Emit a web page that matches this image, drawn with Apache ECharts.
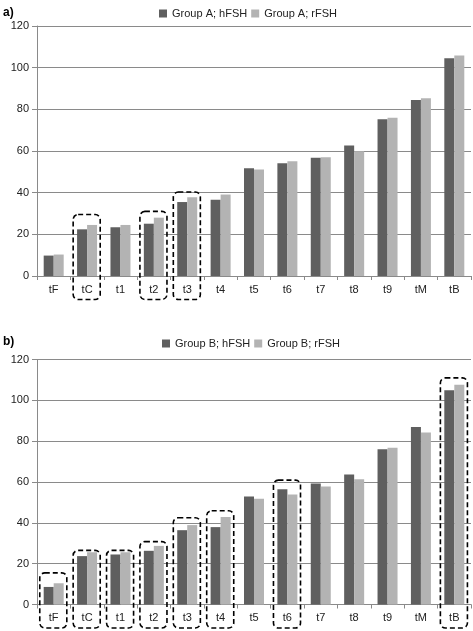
<!DOCTYPE html>
<html><head><meta charset="utf-8">
<script src="https://cdn.jsdelivr.net/npm/echarts@6/dist/echarts.min.js"></script>
<style>html,body{margin:0;padding:0;background:#fff}#c{width:473px;height:631px}</style>
</head><body><div id="c"></div>
<script>
var categories = ['tF','tC','t1','t2','t3','t4','t5','t6','t7','t8','t9','tM','tB'];
var yTicks = [0,20,40,60,80,100,120];
var groupA_hFSH = [9.8,22.4,23.4,25.1,35.5,36.6,51.7,54.1,56.8,62.7,75.2,84.5,104.5];
var groupA_rFSH = [10.3,24.5,24.5,28.0,37.8,39.1,51.1,55.1,57.0,59.9,76.0,85.3,105.8];
var groupB_hFSH = [8.6,23.7,24.5,26.3,36.4,37.9,52.9,56.5,59.3,63.7,76.0,86.9,104.9];
var groupB_rFSH = [10.4,25.6,25.6,28.7,38.9,42.8,51.8,53.9,57.8,61.4,76.8,84.3,107.6];
// highlighted (dashed box) categories and the value at the top of each box
var boxesA = ['tC','t2','t3'];
var boxTopA = [29.5,31,40.3];
var boxesB = ['tF','tC','t1','t2','t3','t4','t6','tB'];
var boxTopB = [15.5,26.5,26.5,30.8,42.5,45.9,60.9,111];

var DARK = '#5f5f5f', LIGHT = '#b3b3b3', GRID = '#8a8a8a';
var FONT = 'Liberation Sans, Arial, sans-serif';

function xAx(gi){
  return {type:'category', gridIndex:gi, data:categories,
    axisLine:{lineStyle:{color:GRID,width:1}},
    axisTick:{show:true,length:4,lineStyle:{color:GRID}},
    axisLabel:{color:'#222',fontSize:11,fontFamily:FONT,margin:8}};
}
function yAx(gi){
  return {type:'value', gridIndex:gi, min:0, max:120, interval:20,
    axisLine:{show:true,lineStyle:{color:GRID,width:1}},
    axisTick:{show:true,length:5,lineStyle:{color:GRID}},
    splitLine:{lineStyle:{color:GRID,width:1}},
    axisLabel:{color:'#222',fontSize:11,fontFamily:FONT,margin:8,
      formatter:function(v){return yTicks.indexOf(v)>=0?String(v):'';}}};
}
function bar(name,data,gi,color){
  return {type:'bar',name:name,data:data,xAxisIndex:gi,yAxisIndex:gi,
    barWidth:10,barGap:'0%',itemStyle:{color:color},emphasis:{disabled:true}};
}
var legendStyle = {icon:'rect',itemWidth:8,itemHeight:8,itemGap:4,
  textStyle:{fontSize:11,fontFamily:FONT,color:'#222'},selectedMode:false};

var chart = echarts.init(document.getElementById('c'),null,{renderer:'canvas'});
chart.setOption({
  animation:false,
  backgroundColor:'#fff',
  title:[
    {text:'a)',left:-2,top:2,textStyle:{fontSize:12,fontWeight:'bold',fontFamily:FONT,color:'#000'}},
    {text:'b)',left:-2,top:331,textStyle:{fontSize:12,fontWeight:'bold',fontFamily:FONT,color:'#000'}}
  ],
  legend:[
    Object.assign({data:['Group A; hFSH','Group A; rFSH'],left:154,top:3},legendStyle),
    Object.assign({data:['Group B; hFSH','Group B; rFSH'],left:157,top:333},legendStyle)
  ],
  grid:[
    {left:37,right:2,top:26,height:250},
    {left:37,right:2,top:359.5,height:245}
  ],
  xAxis:[xAx(0),xAx(1)],
  yAxis:[yAx(0),yAx(1)],
  series:[
    bar('Group A; hFSH',groupA_hFSH,0,DARK),
    bar('Group A; rFSH',groupA_rFSH,0,LIGHT),
    bar('Group B; hFSH',groupB_hFSH,1,DARK),
    bar('Group B; rFSH',groupB_rFSH,1,LIGHT)
  ]
});

function boxes(gi,cats,tops){
  var out=[];
  var p0=chart.convertToPixel({gridIndex:gi},[categories[0],0]);
  var p1=chart.convertToPixel({gridIndex:gi},[categories[1],0]);
  var cw=p1[0]-p0[0];
  var w=cw*0.81;
  cats.forEach(function(c,i){
    var pt=chart.convertToPixel({gridIndex:gi},[c,tops[i]]);
    var base=chart.convertToPixel({gridIndex:gi},[c,0]);
    var x=pt[0]-w/2-0.4, y=pt[1];
    out.push({type:'rect',shape:{x:x,y:y,width:w,height:base[1]+23.5-y,r:5},
      style:{fill:null,stroke:'#000',lineWidth:1.6,lineDash:[5,3]},z:100,silent:true});
  });
  return out;
}
chart.setOption({graphic:boxes(0,boxesA,boxTopA).concat(boxes(1,boxesB,boxTopB))});
</script></body></html>
